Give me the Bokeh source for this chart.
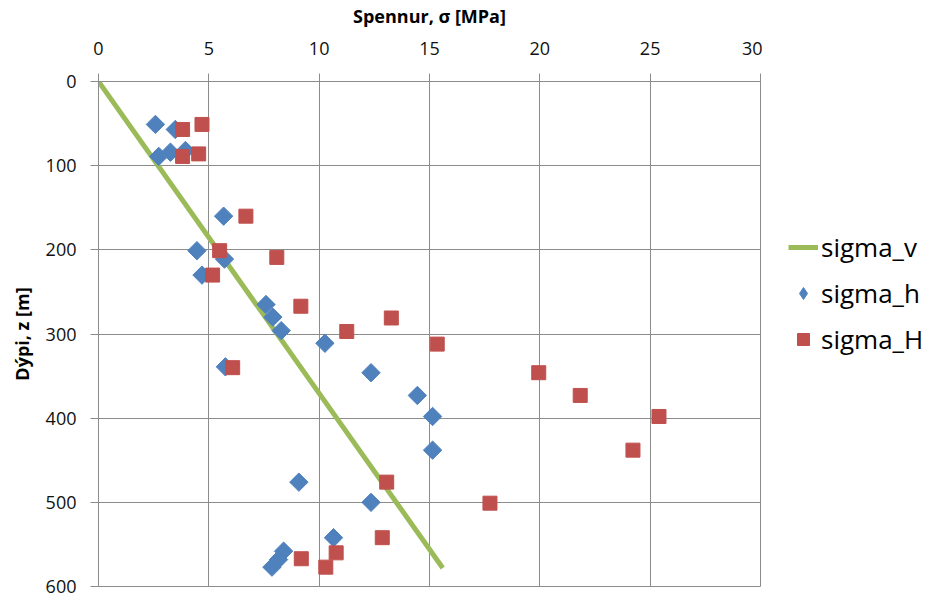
import numpy as np
from bokeh.plotting import figure
from bokeh.layouts import row
from bokeh.models import Range1d, FixedTicker, Legend, LegendItem, LinearAxis, Grid
from bokeh.embed import file_html
from bokeh.resources import INLINE

# Data
sigma_v_depth = [0, 578]
sigma_v = [0, 15.6]

sigma_h_depth = [51, 57, 82, 84, 89, 160, 201, 211, 230, 265, 280, 296, 311, 339,
                 346, 373, 398, 438, 476, 500, 542, 558, 568, 577]
sigma_h = [2.58, 3.48, 3.94, 3.26, 2.73, 5.67, 4.46, 5.71, 4.69, 7.59, 7.90, 8.28,
           10.26, 5.75, 12.35, 14.45, 15.14, 15.14, 9.08, 12.35, 10.65, 8.39, 8.16, 7.86]

sigma_H_depth = [51, 57, 86, 89, 160, 201, 209, 230, 267, 281, 297, 312, 340, 346,
                 373, 398, 438, 476, 501, 542, 560, 567, 577]
sigma_H = [4.69, 3.81, 4.54, 3.81, 6.68, 5.49, 8.08, 5.17, 9.17, 13.27, 11.25, 15.35,
           6.08, 19.95, 21.83, 25.40, 24.22, 13.06, 17.74, 12.86, 10.77, 9.19, 10.30]

series_labels = ["sigma_v", "sigma_h", "sigma_H"]
x_ticks = [0, 5, 10, 15, 20, 25, 30]
y_ticks = [0, 100, 200, 300, 400, 500, 600]

GRID = "#8c8c8c"
FONT = "Open Sans"
C_V, C_h, C_H = "#9BBB59", "#4F81BD", "#C0504D"

p = figure(frame_width=662, frame_height=505, output_backend="svg", toolbar_location=None,
           x_range=Range1d(0, 30), y_range=Range1d(600, 0),
           x_axis_location=None, y_axis_location=None,
           min_border_left=98, min_border_right=2, min_border_top=81, min_border_bottom=11)

p.outline_line_color = GRID
p.outline_line_width = 1
p.background_fill_color = "white"
p.border_fill_color = "white"

xaxis = LinearAxis(ticker=FixedTicker(ticks=x_ticks), axis_label="Spennur, σ [MPa]")
yaxis = LinearAxis(ticker=FixedTicker(ticks=y_ticks), axis_label="Dýpi, z [m]")
for ax in (xaxis, yaxis):
    ax.axis_line_color = GRID
    ax.major_tick_line_color = GRID
    ax.major_tick_out = 8
    ax.major_tick_in = 0
    ax.minor_tick_line_color = None
    ax.major_label_text_font = FONT
    ax.major_label_text_font_size = "18px"
    ax.major_label_text_color = "#111111"
    ax.axis_label_text_font = FONT
    ax.axis_label_text_font_size = "18px"
    ax.axis_label_text_font_style = "bold"
    ax.axis_label_text_color = "#000000"
xaxis.major_label_standoff = 19
xaxis.axis_label_standoff = 11
yaxis.major_label_standoff = 14
yaxis.axis_label_standoff = 9
p.add_layout(xaxis, "above")
p.add_layout(yaxis, "left")

p.xgrid.grid_line_color = None
p.ygrid.grid_line_color = None
p.add_layout(Grid(dimension=0, ticker=xaxis.ticker, grid_line_color=GRID, grid_line_width=1))
p.add_layout(Grid(dimension=1, ticker=yaxis.ticker, grid_line_color=GRID, grid_line_width=1))

p.line(sigma_v, sigma_v_depth, line_color=C_V, line_width=5)
p.scatter(sigma_h, sigma_h_depth, marker="square", angle=np.pi / 4, size=13,
          fill_color=C_h, line_color=C_h)
p.scatter(sigma_H, sigma_H_depth, marker="square", size=14,
          fill_color=C_H, line_color=C_H)

# Legend panel: a separate figure to the right; its renderers use the same data
# but its ranges keep them out of view, so only the legend shows.
leg = figure(width=168, height=597, output_backend="svg", toolbar_location=None,
             x_range=Range1d(1000, 1001), y_range=Range1d(1000, 1001),
             x_axis_location=None, y_axis_location=None,
             min_border=0, outline_line_color=None)
leg.xgrid.grid_line_color = None
leg.ygrid.grid_line_color = None
lv = leg.line(sigma_v, sigma_v_depth, line_color=C_V, line_width=5)
lh = leg.scatter(sigma_h, sigma_h_depth, marker="diamond", size=18, fill_color=C_h, line_color=C_h)
lH = leg.scatter(sigma_H, sigma_H_depth, marker="square", size=14, fill_color=C_H, line_color=C_H)

legend = Legend(items=[LegendItem(label=series_labels[0], renderers=[lv]),
                       LegendItem(label=series_labels[1], renderers=[lh]),
                       LegendItem(label=series_labels[2], renderers=[lH])],
                location=(26, 229))
legend.border_line_color = None
legend.background_fill_alpha = 0
legend.padding = 0
legend.margin = 0
legend.spacing = 10
legend.glyph_width = 30
legend.glyph_height = 30
legend.label_standoff = 3
legend.label_text_font = FONT
legend.label_text_font_size = "26px"
legend.label_text_color = "#000000"
leg.add_layout(legend, "center")

layout = row(p, leg, spacing=0)
open("out.html", "w").write(file_html(layout, INLINE))
